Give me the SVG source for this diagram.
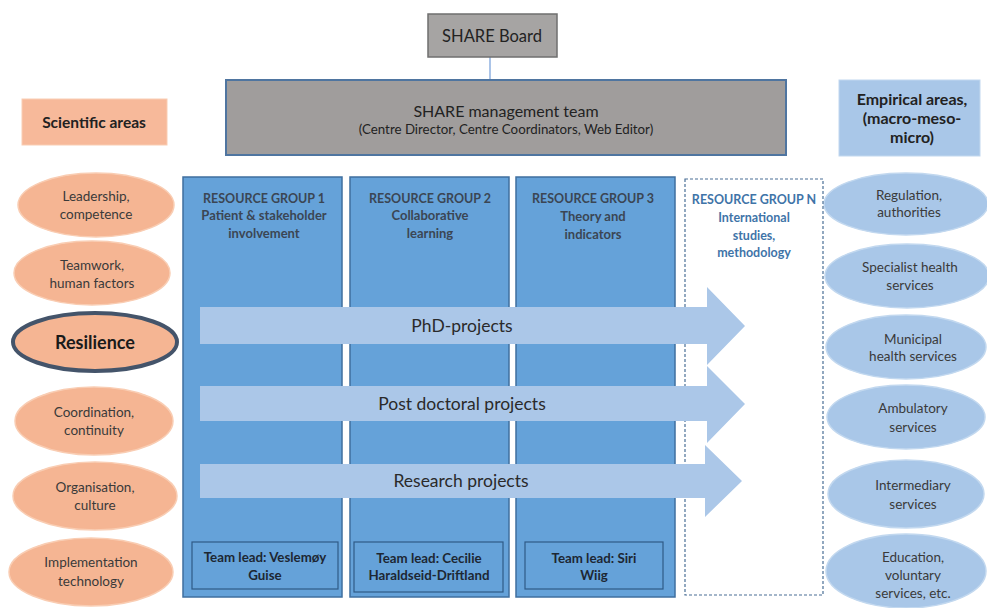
<svg xmlns="http://www.w3.org/2000/svg" width="987" height="608" viewBox="0 0 987 608">
<defs>
<style>
text{font-family:Lato,"Open Sans","Liberation Sans",sans-serif;text-anchor:middle}
.sci{fill:#f5b593;stroke:#f9cdb3;stroke-width:1.5}
.emp{fill:#a9c7e8;stroke:#c2d8ef;stroke-width:1.5}
.grp{fill:#65a2d9;stroke:#3f6f9f;stroke-width:1.5}
.lead{fill:none;stroke:#2f5a86;stroke-width:1.2}
.arr{fill:#abc7e8}
.t{font-size:13.5px;fill:#3a3a3a}
.rg{font-size:12.5px;font-weight:bold;fill:#3b4654}
.rgs{font-size:13px;font-weight:bold;fill:#3b4654}
.rgn{font-size:12.5px;font-weight:bold;fill:#3f74a8}
.tl{font-size:13.3px;font-weight:bold;fill:#1d2733}
.big{font-size:17.5px;fill:#2a2a2a}
.hd{font-size:16px;font-weight:bold;fill:#222}
</style>
</defs>
<rect width="987" height="608" fill="#fff"/>
<g id="connectors">
<line x1="490" y1="57" x2="490" y2="80" stroke="#8fb0e0" stroke-width="1.5"/>
</g>
<g id="board">
<rect x="428" y="14" width="129" height="43" fill="#a6a4a3" stroke="#6f6f6f" stroke-width="1.5"/>
<text x="492" y="42" style="font-size:16.5px;fill:#222">SHARE Board</text>
</g>
<g id="management">
<rect x="226" y="80" width="560" height="75" fill="#a09d9c" stroke="#4f75a0" stroke-width="2"/>
<text x="506" y="117" style="font-size:16px;fill:#222">SHARE management team</text>
<text x="506" y="134" style="font-size:13.3px;fill:#222">(Centre Director, Centre Coordinators, Web Editor)</text>
</g>
<g id="scientific-areas">
<rect x="22" y="99" width="145" height="46" fill="#f7b99a" stroke="#f9cdb3" stroke-width="1"/>
<text class="hd" x="94" y="128" style="font-size:15.5px">Scientific areas</text>
</g>
<g id="empirical-areas">
<rect x="839" y="80" width="141" height="76" fill="#a9c7e8" stroke="#c2d8ef" stroke-width="1"/>
<text class="hd" x="912" y="105">Empirical areas,</text>
<text class="hd" x="912" y="124">(macro-meso-</text>
<text class="hd" x="912" y="143">micro)</text>
</g>
<g id="sci-leadership"><ellipse class="sci" cx="96" cy="205" rx="78" ry="32"/><text class="t" x="96" y="201">Leadership,</text><text class="t" x="96" y="219">competence</text></g>
<g id="sci-teamwork"><ellipse class="sci" cx="92" cy="273" rx="78" ry="32"/><text class="t" x="92" y="270">Teamwork,</text><text class="t" x="92" y="288">human factors</text></g>
<g id="sci-resilience"><ellipse cx="95" cy="342" rx="82" ry="29" fill="#f5b593" stroke="#44546a" stroke-width="4"/><text x="95" y="349" style="font-size:18px;font-weight:bold;fill:#1a1a1a">Resilience</text></g>
<g id="sci-coordination"><ellipse class="sci" cx="94" cy="421" rx="79" ry="34"/><text class="t" x="94" y="417">Coordination,</text><text class="t" x="94" y="435">continuity</text></g>
<g id="sci-organisation"><ellipse class="sci" cx="95" cy="496" rx="82" ry="34"/><text class="t" x="95" y="492">Organisation,</text><text class="t" x="95" y="510">culture</text></g>
<g id="sci-implementation"><ellipse class="sci" cx="91" cy="572" rx="82" ry="34"/><text class="t" x="91" y="567">Implementation</text><text class="t" x="91" y="586">technology</text></g>
<g id="emp-regulation"><ellipse class="emp" cx="906" cy="204" rx="82" ry="31"/><text class="t" x="909" y="200">Regulation,</text><text class="t" x="909" y="217">authorities</text></g>
<g id="emp-specialist"><ellipse class="emp" cx="907" cy="276" rx="82" ry="32"/><text class="t" x="910" y="272">Specialist health</text><text class="t" x="910" y="290">services</text></g>
<g id="emp-municipal"><ellipse class="emp" cx="906" cy="347" rx="80" ry="32"/><text class="t" x="913" y="344">Municipal</text><text class="t" x="913" y="361">health services</text></g>
<g id="emp-ambulatory"><ellipse class="emp" cx="906" cy="417" rx="79" ry="32"/><text class="t" x="913" y="413">Ambulatory</text><text class="t" x="913" y="432">services</text></g>
<g id="emp-intermediary"><ellipse class="emp" cx="906" cy="494" rx="78" ry="34"/><text class="t" x="913" y="490">Intermediary</text><text class="t" x="913" y="509">services</text></g>
<g id="emp-education"><ellipse class="emp" cx="906" cy="571" rx="80" ry="37"/><text class="t" x="913" y="562">Education,</text><text class="t" x="913" y="580">voluntary</text><text class="t" x="913" y="598">services, etc.</text></g>
<g id="rg1">
<rect class="grp" x="183" y="177" width="159" height="420"/>
<text class="rg" x="264" y="203">RESOURCE GROUP 1</text>
<text class="rgs" x="264" y="220">Patient &amp; stakeholder</text>
<text class="rgs" x="264" y="238">involvement</text>
<rect class="lead" x="192" y="542" width="146" height="47"/>
<text class="tl" x="265" y="562">Team lead: Veslemøy</text>
<text class="tl" x="265" y="580">Guise</text>
</g>
<g id="rg2">
<rect class="grp" x="350" y="177" width="159" height="420"/>
<text class="rg" x="430" y="203">RESOURCE GROUP 2</text>
<text class="rgs" x="430" y="220">Collaborative</text>
<text class="rgs" x="430" y="238">learning</text>
<rect class="lead" x="354" y="542" width="149" height="50"/>
<text class="tl" x="429" y="563">Team lead: Cecilie</text>
<text class="tl" x="429" y="580">Haraldseid-Driftland</text>
</g>
<g id="rg3">
<rect class="grp" x="516" y="177" width="159" height="420"/>
<text class="rg" x="593" y="203">RESOURCE GROUP 3</text>
<text class="rgs" x="593" y="221">Theory and</text>
<text class="rgs" x="593" y="239">indicators</text>
<rect class="lead" x="525" y="542" width="138" height="47"/>
<text class="tl" x="594" y="563">Team lead: Siri</text>
<text class="tl" x="594" y="580">Wiig</text>
</g>
<g id="rgn">
<rect x="685" y="179" width="138" height="416" fill="#fff" stroke="#4a6f96" stroke-width="1.2" stroke-dasharray="3,2"/>
<text class="rgn" x="754" y="204">RESOURCE GROUP N</text>
<text class="rgn" x="754" y="222">International</text>
<text class="rgn" x="754" y="240">studies,</text>
<text class="rgn" x="754" y="257">methodology</text>
</g>
<g id="arrow-phd">
<polygon class="arr" points="200,307 707,307 707,287 745,326 707,365 707,344 200,344"/>
<text class="big" x="462" y="332">PhD-projects</text>
</g>
<g id="arrow-postdoc">
<polygon class="arr" points="200,386 707,386 707,366 745,404 707,443 707,421 200,421"/>
<text class="big" x="462" y="410">Post doctoral projects</text>
</g>
<g id="arrow-research">
<polygon class="arr" points="200,464 705,464 705,445 742,481 705,517 705,498 200,498"/>
<text class="big" x="461" y="487">Research projects</text>
</g>
</svg>
